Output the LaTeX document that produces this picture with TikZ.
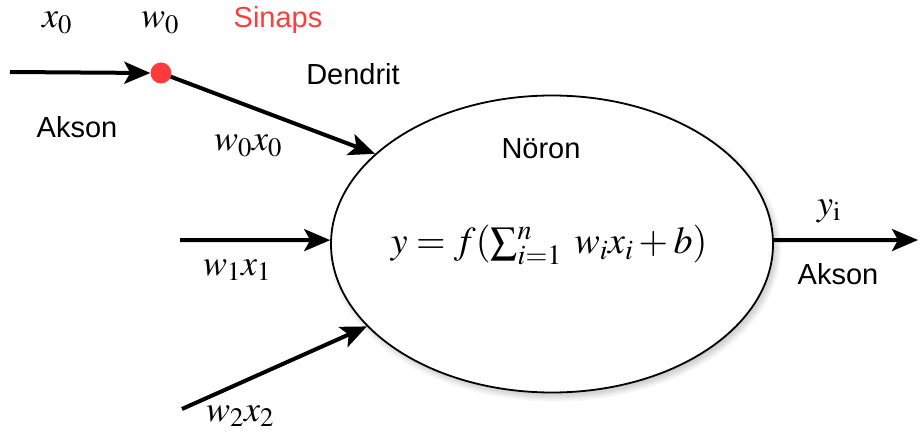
\documentclass[tikz,border=0pt]{standalone}
\usepackage{mathptmx}
\usepackage{fontspec}
\setmainfont{Liberation Sans}
\usetikzlibrary{shapes.geometric,arrows.meta,shadows.blur}
\definecolor{sinred}{HTML}{FF3B3B}
\tikzset{
  conn/.style={line width=4pt, -{Stealth[length=26pt,width=22pt,inset=6pt]}},
  lbl/.style={font=\fontsize{29}{33}\selectfont, inner sep=0pt},
  mlbl/.style={font=\fontsize{36}{40}\selectfont, inner sep=0pt},
  flbl/.style={font=\fontsize{38}{42}\selectfont, inner sep=0pt},
}
\begin{document}
\begin{tikzpicture}[x=1pt,y=-1pt]
\useasboundingbox (0,0) rectangle (920,438);
\node[ellipse, draw, fill=white, line width=1.8pt, minimum width=442pt, minimum height=297pt, inner sep=0pt,
  blur shadow={shadow xshift=3pt, shadow yshift=-4pt, shadow blur radius=6pt, shadow blur steps=12, shadow opacity=25}] (neuron) at (552,244) {};
\coordinate (ax0) at (10,72);
\coordinate (in1) at (180,240);
\coordinate (in2) at (182,409);
\coordinate (out) at (918,240);
\coordinate (sync) at (161,73);
\draw[conn] (sync) -- (neuron.153);
\node[sinred, circle, fill, minimum size=21pt, inner sep=0pt] (syn) at (sync) {};
\draw[conn] (ax0) -- (syn.west);
\draw[conn] (in1) -- (neuron.179);
\draw[conn] (in2) -- (neuron.204);
\draw[conn] (neuron.1) -- (out);
\node[mlbl] (tx0) at (57,23) {$x_0$};
\node[mlbl] (tw0) at (160,23) {$w_0$};
\node[lbl, text=sinred] (tsin) at (278,20) {Sinaps};
\node[lbl] (tden) at (353,74) {Dendrit};
\node[lbl] (tak1) at (77,127) {Akson};
\node[mlbl] (tw0x0) at (248,146) {$w_0x_0$};
\node[lbl] (tnor) at (541,149) {Nöron};
\node[flbl] (tf) at (549,245) {$y = f(\sum_{i=1}^{n}\; w_i x_i + b)$};
\node[mlbl] (tyi) at (829,211) {$y_\mathrm{i}$};
\node[lbl] (tak2) at (838,274) {Akson};
\node[mlbl] (tw1) at (237,270) {$w_1x_1$};
\node[mlbl] (tw2) at (240,416) {$w_2x_2$};
\end{tikzpicture}
\end{document}
